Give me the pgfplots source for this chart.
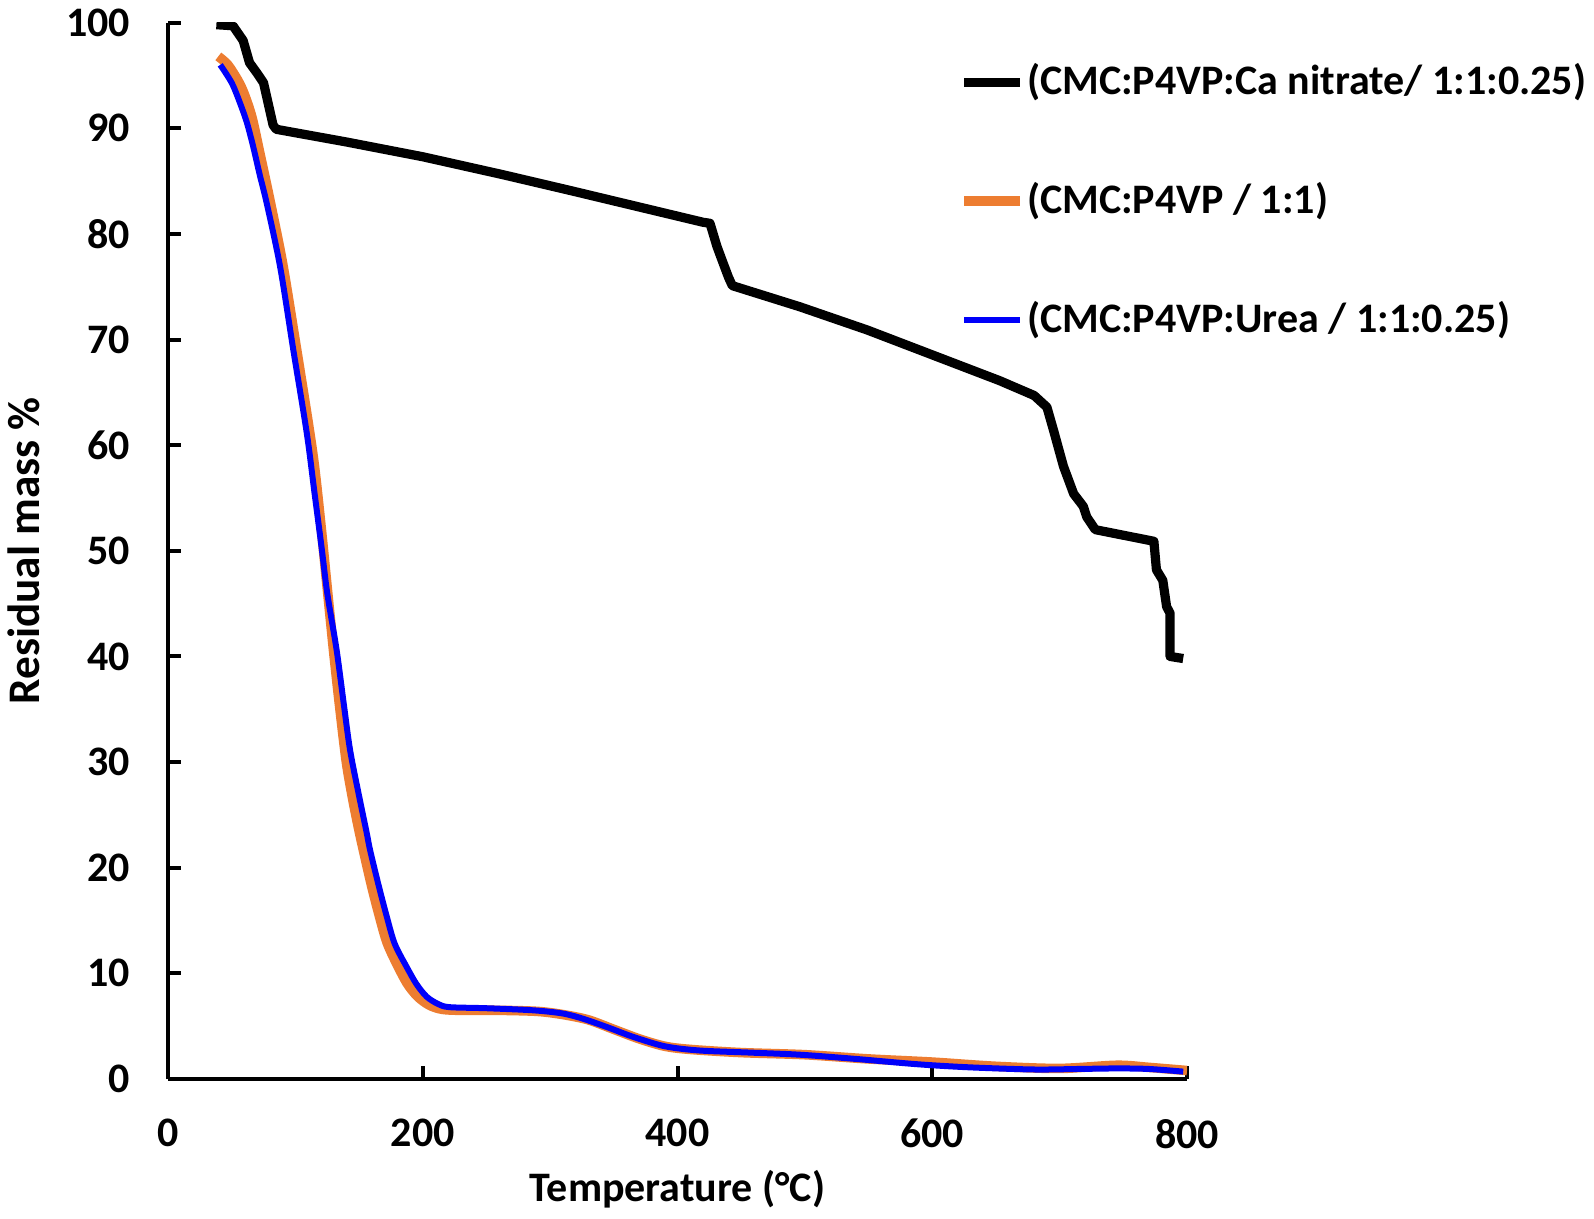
\documentclass[border=0pt]{standalone}
\usepackage{fontspec}
\setmainfont{Carlito}
\usepackage{pgfplots}
\pgfplotsset{compat=1.18}
\definecolor{ora}{RGB}{237,125,49}
\definecolor{blu}{RGB}{0,0,250}
\begin{document}
\begin{tikzpicture}
\begin{axis}[
  scale only axis, width=254.75pt, height=264.1pt,
  xmin=0, xmax=800, ymin=0, ymax=100,
  axis lines=left, axis line style={-, line width=1pt, black},
  xtick={0,200,...,800}, ytick={0,10,...,100},
  tick align=inside, major tick length=3.2pt,
  every tick/.style={black, line width=1pt},
  /pgf/number format/assume math mode=true,
  tick label style={font=\bfseries\fontsize{10.5}{12}\selectfont},
  yticklabel style={xshift=-6pt},
  xticklabel style={yshift=-6.5pt},
  xlabel={Temperature (°C)}, ylabel={Residual mass \%},
  xlabel style={font=\bfseries\fontsize{10.5}{12}\selectfont, at={(axis description cs:0.5,-0.104)}, anchor=center},
  ylabel style={font=\bfseries\fontsize{11.3}{13}\selectfont, at={(axis description cs:-0.141,0.5)}, anchor=center},
  legend style={draw=none, fill=none, at={(axis description cs:0.776,0.962)}, anchor=north west,
    inner sep=0pt, row sep=20.4pt, column sep=0.5pt, nodes={inner sep=0pt},
    font=\bfseries\fontsize{10.5}{12}\selectfont},
  legend cell align=left,
  legend image code/.code={\draw[#1] (0pt,0pt) -- (14pt,0pt);},
]
\addplot[black, line width=2.3pt, line join=round] coordinates {
(38,99.8)(51,99.7)(59,98.3)(64,96.2)(70,95.2)(75,94.3)(82.5,90.3)(85,89.9)(140,88.7)(200,87.3)(263,85.6)(316,84.1)(368,82.6)(420,81.1)(425.5,81.0)(431,78.8)(435,77.5)(440,75.9)(443,75.1)(496,73.1)(549,70.9)(601,68.5)(653,66.1)(680,64.7)(690,63.6)(695,61.5)(703,58.0)(711,55.4)(718.6,54.2)(721.3,53.2)(728,52.0)(774,50.9)(776,48.2)(781,47.2)(784,44.7)(786.7,44.1)(786.7,40.0)(797,39.8)
};
\addlegendentry{(CMC:P4VP:Ca nitrate/ 1:1:0.25)}
\addplot[ora, line width=2.4pt, line join=round, smooth] coordinates {
(39.5,96.8)(47,96.0)(55,94.5)(60,93.2)(66,91.0)(72,87.7)(80,83.2)(90,77.2)(100,69.8)(110,62.2)(115,58.0)(120,52.5)(125,46.5)(130,40.5)(135,35.0)(140,30.0)(145,26.5)(150,23.5)(155,20.8)(160,18.2)(166,15.4)(172,12.9)(180,10.8)(188,9.0)(196,7.8)(205,7.0)(215,6.6)(230,6.5)(260,6.5)(290,6.4)(310,6.1)(330,5.6)(350,4.7)(370,3.8)(390,3.1)(410,2.8)(450,2.5)(500,2.3)(550,1.9)(600,1.6)(650,1.2)(700,1.0)(745,1.3)(770,1.1)(800,0.8)
};
\addlegendentry{(CMC:P4VP / 1:1)}
\addplot[blu, line width=1.5pt, line join=round, smooth] coordinates {
(41,96.0)(50,94.3)(56.5,92.4)(62,90.5)(67,88.2)(72,85.6)(77.5,82.9)(88,76.9)(98.4,69.0)(109,61.1)(115,55.5)(120.7,50.2)(125,46.0)(132.4,40.6)(138,35.5)(143,31.1)(150,26.8)(156,23.3)(158.6,21.7)(165,18.5)(171.7,15.4)(178,12.8)(187.4,10.6)(195,9.0)(203,7.8)(212,7.1)(221,6.8)(250,6.7)(287,6.5)(310,6.2)(326,5.7)(345,4.9)(365,4.0)(390,3.1)(417,2.7)(457,2.5)(496,2.3)(540,1.9)(588,1.4)(630,1.1)(680,0.9)(715,0.95)(745,1.0)(770,0.95)(797,0.7)
};
\addlegendentry{(CMC:P4VP:Urea / 1:1:0.25)}
\coordinate (bl) at (rel axis cs:0,0);
\end{axis}
\pgfresetboundingbox
\path[use as bounding box] (bl) ++(-42pt,-35pt) rectangle ++(398.5pt,304.75pt);
\end{tikzpicture}
\end{document}
